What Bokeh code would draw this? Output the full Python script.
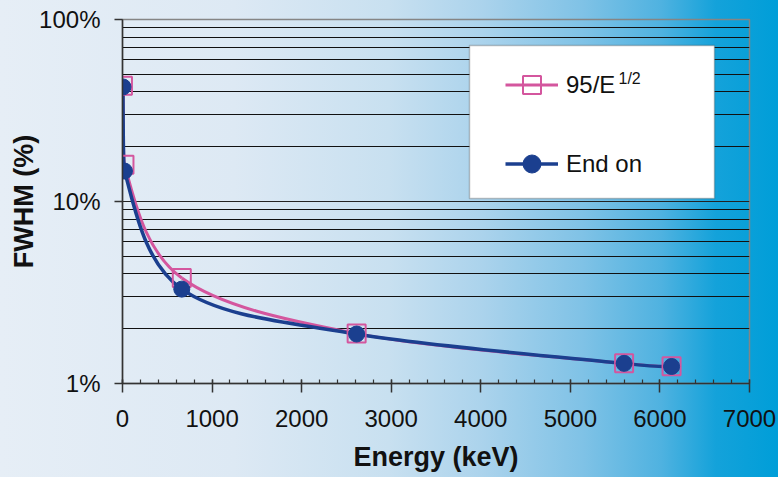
import numpy as np
from bokeh.plotting import figure
from bokeh.models import (FixedTicker, Range1d, Legend, LegendItem, BoxAnnotation,
                          Label, ColumnDataSource)
from bokeh.embed import file_html
from bokeh.resources import INLINE

# Resolution (FWHM, %) versus gamma energy (keV)
energy_model = [5, 22, 662, 2614, 5600, 6130]
fwhm_model = [43.3, 15.9, 3.8, 1.88, 1.29, 1.245]

energy_end_on = [5, 22, 662, 2614, 5600, 6130]
fwhm_end_on = [42.6, 14.7, 3.3, 1.87, 1.29, 1.24]

x_ticks = [0, 1000, 2000, 3000, 4000, 5000, 6000, 7000]
y_ticks = [1, 10, 100]
y_tick_labels = ["1%", "10%", "100%"]

PINK = "#d4569e"
NAVY = "#1b3f8f"
FONT = "Liberation Sans"


def smooth_segments(xs, ys):
    """Cubic Bezier segments through the points, built in (x, log10 y) space.

    Tangents follow the Catmull-Rom rule; each handle is shortened when needed so
    that it never reaches past the neighbouring point in x.
    """
    x = np.asarray(xs, dtype=float)
    ly = np.log10(np.asarray(ys, dtype=float))
    xp = np.r_[x[0], x, x[-1]]
    lp = np.r_[ly[0], ly, ly[-1]]
    tx = (xp[2:] - xp[:-2]) / 6.0
    tl = (lp[2:] - lp[:-2]) / 6.0
    seg = np.diff(x)
    # outgoing handle of point i (segment i) and incoming handle of point i+1
    k0 = np.minimum(1.0, seg / np.where(tx[:-1] > 0, tx[:-1], np.inf))
    k1 = np.minimum(1.0, seg / np.where(tx[1:] > 0, tx[1:], np.inf))
    return dict(
        x0=x[:-1], y0=10 ** ly[:-1], x1=x[1:], y1=10 ** ly[1:],
        cx0=x[:-1] + k0 * tx[:-1], cy0=10 ** (ly[:-1] + k0 * tl[:-1]),
        cx1=x[1:] - k1 * tx[1:], cy1=10 ** (ly[1:] - k1 * tl[1:]),
    )


p = figure(width=778, height=477, x_range=Range1d(0, 7000), y_range=Range1d(1, 100),
           y_axis_type="log", output_backend="svg", toolbar_location=None,
           min_border_left=122, min_border_right=29, min_border_top=19,
           min_border_bottom=94)

p.styles = {"background": "linear-gradient(to right, #e6eef6 0%, #dde9f4 30%, "
                          "#c8e0f0 50%, #abd3ec 62%, #7fc2e6 75%, #4fb2e0 85%, "
                          "#14a2da 92%, #009ed8 100%)"}
p.background_fill_alpha = 0
p.border_fill_alpha = 0
p.outline_line_color = "#858585"
p.outline_line_width = 1.5

# axes
p.xaxis.ticker = FixedTicker(ticks=x_ticks,
                             minor_ticks=list(range(x_ticks[0], x_ticks[-1] + 1, 200)))
p.yaxis.ticker = FixedTicker(ticks=y_ticks,
                             minor_ticks=[m * d for d in y_ticks[:-1] for m in range(2, 10)])
p.yaxis.major_label_overrides = dict(zip(y_ticks, y_tick_labels))

for ax in (p.xaxis, p.yaxis):
    ax.axis_line_color = "#333333"
    ax.axis_line_width = 1.5
    ax.major_tick_line_color = "#333333"
    ax.major_tick_line_width = 1.5
    ax.minor_tick_line_color = "#333333"
    ax.minor_tick_line_width = 1.2
    ax.major_label_text_font = FONT
    ax.major_label_text_font_size = "24px"
    ax.major_label_text_color = "#111111"
    ax.axis_label_text_font = FONT
    ax.axis_label_text_font_size = "27px"
    ax.axis_label_text_font_style = "bold"
    ax.axis_label_text_color = "#111111"

p.xaxis.major_tick_in = 4
p.xaxis.major_tick_out = 9
p.xaxis.minor_tick_in = 4
p.xaxis.minor_tick_out = 0
p.xaxis.major_label_standoff = 17
p.xaxis.axis_label = "Energy (keV)"
p.xaxis.axis_label_standoff = 12

p.yaxis.major_tick_in = 0
p.yaxis.major_tick_out = 8
p.yaxis.minor_tick_line_color = None
p.yaxis.major_label_standoff = 14
p.yaxis.axis_label = "FWHM (%)"
p.yaxis.axis_label_standoff = -3

# grid: horizontal lines at every decade subdivision
p.xgrid.grid_line_color = None
p.ygrid.grid_line_color = "#222222"
p.ygrid.grid_line_width = 1.2
p.ygrid.minor_grid_line_color = "#111111"
p.ygrid.minor_grid_line_width = 1.2

# smoothed curves
p.bezier(source=ColumnDataSource(smooth_segments(energy_model, fwhm_model)),
         x0="x0", y0="y0", x1="x1", y1="y1", cx0="cx0", cy0="cy0", cx1="cx1", cy1="cy1",
         line_color=PINK, line_width=3)
p.bezier(source=ColumnDataSource(smooth_segments(energy_end_on, fwhm_end_on)),
         x0="x0", y0="y0", x1="x1", y1="y1", cx0="cx0", cy0="cy0", cx1="cx1", cy1="cy1",
         line_color=NAVY, line_width=3.5)

sq = p.scatter(energy_model, fwhm_model, marker="square", size=18,
               line_color=PINK, line_width=2, fill_alpha=0)
dots = p.scatter(energy_end_on, fwhm_end_on, marker="circle", size=16,
                 line_color=NAVY, fill_color=NAVY)

# legend keys for the line part of each entry (no visible data)
pink_key = p.line(x=[np.nan, np.nan], y=[np.nan, np.nan], line_color=PINK, line_width=3)
navy_key = p.line(x=[np.nan, np.nan], y=[np.nan, np.nan], line_color=NAVY, line_width=3.5)

box = BoxAnnotation(left=347, right=592, top=338, bottom=185,
                    left_units="screen", right_units="screen",
                    top_units="screen", bottom_units="screen",
                    fill_color="white", fill_alpha=1,
                    line_color="#3c3c3c", line_width=1.5)
p.add_layout(box)

legend = Legend(items=[LegendItem(label="95/E", renderers=[pink_key, sq]),
                       LegendItem(label="End on", renderers=[navy_key, dots])],
                location=(383, 197), padding=0, margin=0, spacing=34,
                glyph_width=53, glyph_height=45, label_height=45, label_standoff=8,
                label_text_font=FONT, label_text_font_size="24px",
                label_text_color="#111111",
                background_fill_alpha=0, border_line_color=None)
p.add_layout(legend)

# exponent of the first legend entry
p.add_layout(Label(x=496, y=314, x_units="screen", y_units="screen", text="1/2",
                   text_font=FONT, text_font_size="16px", text_color="#111111",
                   text_baseline="top"))

open("out.html", "w").write(file_html(p, INLINE))
